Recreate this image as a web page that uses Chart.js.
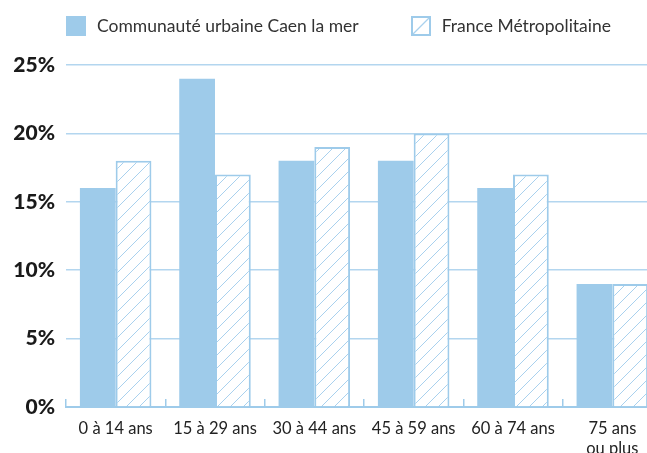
<!DOCTYPE html>
<html>
<head>
<meta charset="utf-8">
<script src="https://cdn.jsdelivr.net/npm/chart.js@4"></script>
<style>
  html, body { margin: 0; padding: 0; background: #fff; overflow: hidden; }
  #wrap { position: relative; width: 662px; height: 453px; }
  #legend { position: absolute; top: 15px; left: 66px; display: flex; font-family: Lato, sans-serif; font-size: 17.5px; color: #333; }
  .item { display: flex; align-items: center; }
  .item + .item { margin-left: 52px; }
  .box { width: 20px; height: 20px; margin-right: 11px; box-sizing: border-box; }
</style>
</head>
<body>
<div id="wrap">
  <div id="legend"></div>
  <canvas id="myChart" width="662" height="453"></canvas>
</div>
<script>
const categories = ['0 à 14 ans', '15 à 29 ans', '30 à 44 ans', '45 à 59 ans', '60 à 74 ans', ['75 ans', 'ou plus']];
const caenValues = [16, 24, 18, 18, 16, 9];
const franceValues = [18, 17, 19, 20, 17, 9];
const seriesNames = ['Communauté urbaine Caen la mer', 'France Métropolitaine'];
const yTicks = [0, 5, 10, 15, 20, 25];

const blue = '#9ecbea';
const gridBlue = '#b3d6ef';

function makeHatch() {
    const c = document.createElement('canvas');
    c.width = 13;
    c.height = 13;
    const x = c.getContext('2d');
    x.fillStyle = '#fff';
    x.fillRect(0, 0, 13, 13);
    x.strokeStyle = '#a9d1ee';
    x.lineWidth = 1;
    x.beginPath();
    x.moveTo(0, 13); x.lineTo(13, 0);
    x.moveTo(-2, 2); x.lineTo(2, -2);
    x.moveTo(11, 15); x.lineTo(15, 11);
    x.stroke();
    return x.createPattern(c, 'repeat');
}

// html legend
const legend = document.getElementById('legend');
seriesNames.forEach((name, i) => {
    const item = document.createElement('div');
    item.className = 'item';
    const box = document.createElement('div');
    box.className = 'box';
    if (i == 0) {
        box.style.background = blue;
    } else {
        box.style.border = '2px solid ' + blue;
        box.style.background = 'linear-gradient(to bottom right, #fff 46%, #a9d1ee 48%, #a9d1ee 52%, #fff 54%)';
    }
    const label = document.createElement('span');
    label.textContent = name;
    item.appendChild(box);
    item.appendChild(label);
    legend.appendChild(item);
});

const ctx = document.getElementById('myChart');
const myChart = new Chart(ctx, {
    type: 'bar',
    data: {
        labels: categories,
        datasets: [{
            label: seriesNames[0],
            data: caenValues,
            backgroundColor: blue,
            borderWidth: 0,
            categoryPercentage: 0.72,
            barPercentage: 1
        }, {
            label: seriesNames[1],
            data: franceValues,
            backgroundColor: makeHatch(),
            borderColor: blue,
            borderWidth: 2,
            borderSkipped: 'bottom',
            categoryPercentage: 0.72,
            barPercentage: 1
        }]
    },
    options: {
        responsive: false,
        animation: false,
        layout: { padding: { top: 65, right: 0, bottom: 0, left: 0 } },
        plugins: {
            legend: { display: false },
            tooltip: { enabled: false }
        },
        scales: {
            x: {
                afterFit: (scale) => { scale.height = 46; },
                grid: {
                    offset: true,
                    drawOnChartArea: false,
                    drawTicks: true,
                    tickLength: -8,
                    color: blue,
                    lineWidth: 1.5
                },
                border: { color: blue, width: 2 },
                ticks: {
                    color: '#222',
                    padding: 20,
                    font: { family: 'Lato', size: 16.5 },
                    maxRotation: 0,
                    autoSkip: false
                }
            },
            y: {
                min: 0,
                max: 25,
                afterBuildTicks: (scale) => { scale.ticks = yTicks.map(v => ({ value: v })); },
                afterFit: (scale) => { scale.width = 66; },
                grid: { color: gridBlue, lineWidth: 1.5, drawTicks: false },
                border: { display: false },
                ticks: {
                    color: '#1a1a1a',
                    padding: 11,
                    font: { family: 'Lato', size: 21, weight: '900' },
                    callback: (v) => v + '%'
                }
            }
        }
    }
});
</script>
</body>
</html>
